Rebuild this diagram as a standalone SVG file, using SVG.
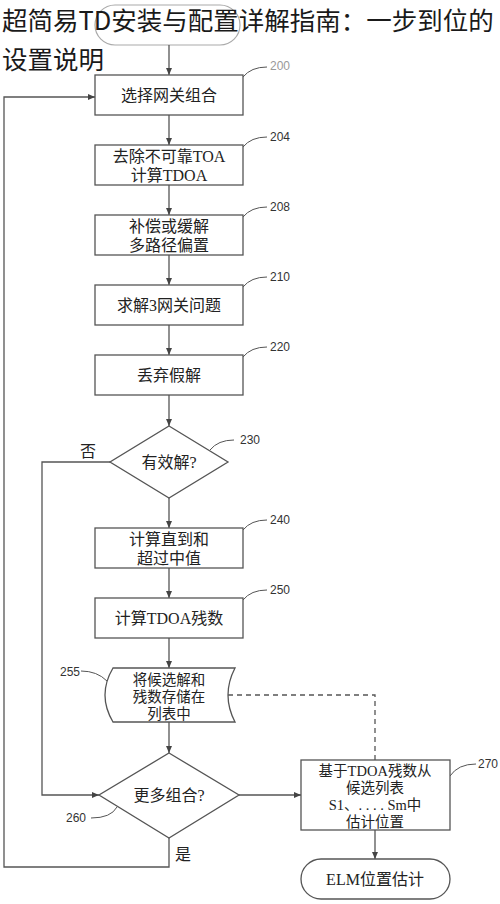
<svg xmlns="http://www.w3.org/2000/svg" width="500" height="904" viewBox="0 0 500 904">
<style>
.box{fill:#fff;stroke:#555;stroke-width:1.3}
.t{font-family:"Liberation Serif","Noto Sans CJK SC",serif;font-size:16px;fill:#222;text-anchor:middle}
.s{font-size:14.5px}
.lbl{font-family:"Liberation Sans Narrow","Liberation Sans",sans-serif;font-size:12px;fill:#333}
.ln{fill:none;stroke:#555;stroke-width:1.3}
.ld{fill:none;stroke:#555;stroke-width:1}
.title{font-family:"Noto Sans CJK SC","Liberation Sans",sans-serif;font-size:25.5px;fill:#1a1a1a}
</style>
<defs>
<marker id="a" markerWidth="8" markerHeight="8" refX="7" refY="4" orient="auto" markerUnits="userSpaceOnUse">
<path d="M0,1 L7,4 L0,7 Z" fill="#444"/>
</marker>
</defs>
<rect width="500" height="904" fill="#fff"/>

<g id="start"><rect x="95" y="5" width="145" height="40" rx="20" fill="#fff" stroke="#aaa" stroke-width="1.2"/></g>

<g id="connectors">
<line class="ln" x1="169" y1="45" x2="169" y2="75" marker-end="url(#a)" stroke="#999"/>
<line class="ln" x1="169" y1="115" x2="169" y2="145" marker-end="url(#a)"/>
<line class="ln" x1="169" y1="185" x2="169" y2="215" marker-end="url(#a)"/>
<line class="ln" x1="169" y1="255" x2="169" y2="285" marker-end="url(#a)"/>
<line class="ln" x1="169" y1="325" x2="169" y2="355" marker-end="url(#a)"/>
<line class="ln" x1="169" y1="395" x2="169" y2="426" marker-end="url(#a)"/>
<line class="ln" x1="169" y1="498" x2="169" y2="528" marker-end="url(#a)"/>
<line class="ln" x1="169" y1="568" x2="169" y2="598" marker-end="url(#a)"/>
<line class="ln" x1="169" y1="638" x2="169" y2="668" marker-end="url(#a)"/>
<line class="ln" x1="169" y1="722" x2="169" y2="753" marker-end="url(#a)"/>
<polyline class="ln" points="110,462 42,462 42,795 99,795" marker-end="url(#a)"/>
<polyline class="ln" points="169,838 169,867 4,867 4,97 95,97" marker-end="url(#a)"/>
<line class="ln" x1="239" y1="795" x2="301" y2="795" marker-end="url(#a)"/>
<polyline class="ln" points="228,695 375,695 375,760" stroke-dasharray="5,4"/>
<line class="ln" x1="375" y1="830" x2="375" y2="859" marker-end="url(#a)"/>
<path class="ld" stroke="#aaa" d="M243,77 q8,-10 24,-10"/>
<path class="ld" d="M243,147 q8,-10 24,-10"/>
<path class="ld" d="M243,217 q8,-10 24,-10"/>
<path class="ld" d="M243,287 q8,-10 24,-10"/>
<path class="ld" d="M243,357 q8,-10 24,-10"/>
<path class="ld" d="M210,450 q8,-10 24,-10"/>
<path class="ld" d="M243,530 q8,-10 24,-10"/>
<path class="ld" d="M243,600 q8,-10 24,-10"/>
<path class="ld" d="M107,681 q-10,-10 -26,-10"/>
<path class="ld" d="M117,807 q-6,11 -26,11"/>
<path class="ld" d="M450,776 q8,-12 26,-12"/>
</g>

<g id="n200"><rect class="box" x="95" y="75" width="148" height="40"/><text class="t" x="169" y="101">选择网关组合</text><text class="lbl" x="270" y="70" style="fill:#999">200</text></g>
<g id="n204"><rect class="box" x="95" y="145" width="148" height="40"/><text class="t" x="169" y="162">去除不可靠TOA</text><text class="t" x="169" y="181">计算TDOA</text><text class="lbl" x="270" y="141">204</text></g>
<g id="n208"><rect class="box" x="95" y="215" width="148" height="40"/><text class="t" x="169" y="232">补偿或缓解</text><text class="t" x="169" y="251">多路径偏置</text><text class="lbl" x="270" y="211">208</text></g>
<g id="n210"><rect class="box" x="95" y="285" width="148" height="40"/><text class="t" x="169" y="311">求解3网关问题</text><text class="lbl" x="270" y="281">210</text></g>
<g id="n220"><rect class="box" x="95" y="355" width="148" height="40"/><text class="t" x="169" y="381">丢弃假解</text><text class="lbl" x="270" y="351">220</text></g>
<g id="n230"><polygon class="box" points="169,426 228,462 169,498 110,462"/><text class="t" x="169" y="468">有效解?</text><text class="lbl" x="240" y="444">230</text><text class="t" x="88" y="457">否</text></g>
<g id="n240"><rect class="box" x="95" y="528" width="148" height="40"/><text class="t" x="169" y="545">计算直到和</text><text class="t" x="169" y="564">超过中值</text><text class="lbl" x="270" y="524">240</text></g>
<g id="n250"><rect class="box" x="95" y="598" width="148" height="40"/><text class="t" x="169" y="624">计算TDOA残数</text><text class="lbl" x="270" y="594">250</text></g>
<g id="n255"><path class="box" d="M113,668 L235,668 Q221,695 235,722 L113,722 Q97,695 113,668 Z"/><text class="t s" x="169" y="685">将候选解和</text><text class="t s" x="169" y="702">残数存储在</text><text class="t s" x="169" y="719">列表中</text><text class="lbl" x="60" y="676">255</text></g>
<g id="n260"><polygon class="box" points="169,753 239,795 169,838 99,795"/><text class="t" x="169" y="801">更多组合?</text><text class="lbl" x="66" y="822">260</text><text class="t" x="183" y="860">是</text></g>
<g id="n270"><rect class="box" x="301" y="760" width="149" height="70"/><text class="t s" x="375" y="776">基于TDOA残数从</text><text class="t s" x="375" y="793">候选列表</text><text class="t s" x="375" y="810">S1、. . . . Sm中</text><text class="t s" x="375" y="827">估计位置</text><text class="lbl" x="478" y="768">270</text></g>
<g id="end"><rect class="box" x="301" y="859" width="149" height="40" rx="20"/><text class="t" x="375" y="885">ELM位置估计</text></g>

<g id="title"><text class="title" x="2" y="30">超简易TD安装与配置详解指南：一步到位的</text><text class="title" x="2" y="69">设置说明</text></g>
</svg>
